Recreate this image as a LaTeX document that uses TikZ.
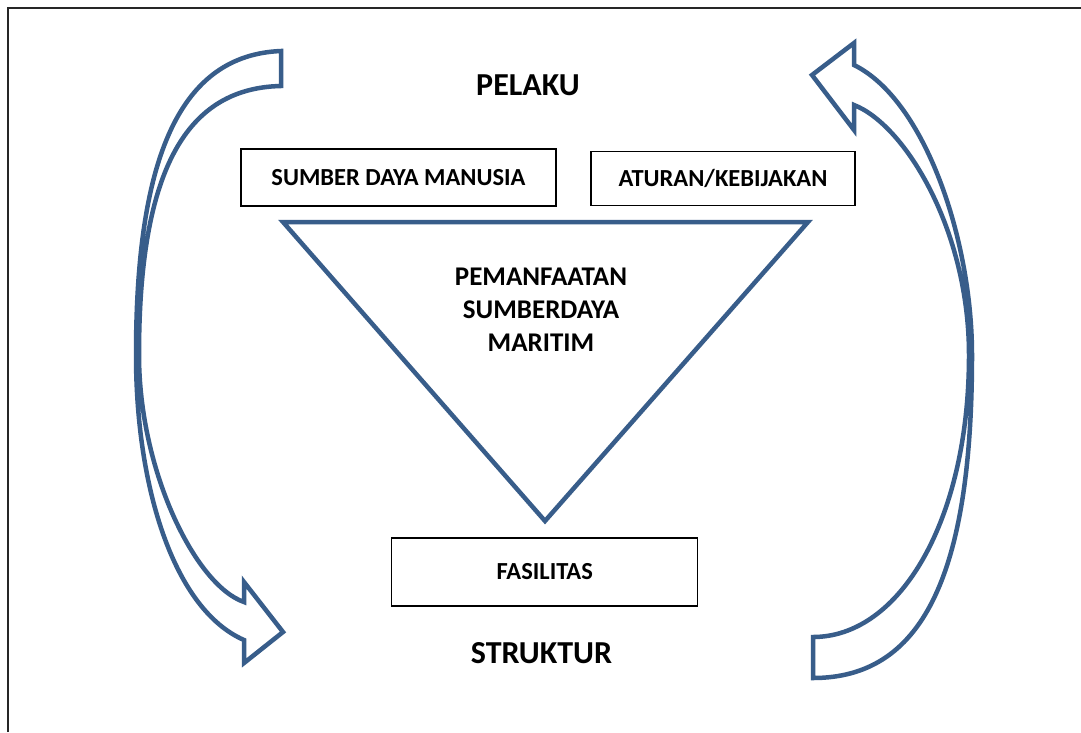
\documentclass[tikz,border=0pt]{standalone}
\usepackage{fontspec}
\setmainfont{Carlito}
\definecolor{arrowblue}{RGB}{56,93,138}
\begin{document}
\begin{tikzpicture}[x=1pt,y=-1pt,
  box/.style={draw=black,line width=1.1pt,rectangle,inner sep=0pt,font=\fontsize{24.5}{29}\selectfont\bfseries},
  bigtitle/.style={font=\fontsize{32}{38}\selectfont\bfseries,inner sep=0pt},
  blueline/.style={draw=arrowblue,line width=4.5pt,line join=miter}]
\useasboundingbox (0,0) rectangle (1081,732);
\fill[white] (0,0) rectangle (1081,732);
% frame
\draw[black!85,line width=1.6pt] (8,732) -- (8,8) -- (1081,8);
% titles
\node[bigtitle] (pelaku) at (528,85) {PELAKU};
\node[bigtitle] (struktur) at (541.5,653) {STRUKTUR};
% boxes
\node[box,minimum width=315pt,minimum height=57pt] (sdm) at (398.5,177.5) {SUMBER DAYA MANUSIA};
\node[box,minimum width=264pt,minimum height=54pt] (aturan) at (723,178.5) {ATURAN/KEBIJAKAN};
\node[box,minimum width=306pt,minimum height=68pt] (fasilitas) at (544.7,572) {FASILITAS};
% triangle
\coordinate (tl) at (283,222);
\coordinate (tr) at (808,222);
\coordinate (tb) at (545,521);
\draw[blueline] (tl) -- (tr) -- (tb) -- cycle;
\node[align=center,font=\fontsize{27}{33}\selectfont\bfseries,inner sep=0pt] (pem) at (541,310) {PEMANFAATAN\\SUMBERDAYA\\MARITIM};
% left curved arrow
\draw[blueline]
  (281,86) .. controls (181,88) and (139,180) .. (139,355)
  .. controls (139,470) and (195,585) .. (244,602)
  -- (244,582) -- (283,632) -- (244,663) -- (244,640)
  .. controls (175,610) and (136,490) .. (136,355)
  .. controls (136,155) and (181,55) .. (281,51) -- cycle;
% right curved arrow
\draw[blueline]
  (813,637) .. controls (900,637) and (969,520) .. (969,355)
  .. controls (969,230) and (905,125) .. (854,105)
  -- (854,130) -- (812,75) -- (854,43) -- (854,65)
  .. controls (925,100) and (972,240) .. (972,355)
  .. controls (972,580) and (920,678) .. (813,678) -- cycle;
\end{tikzpicture}
\end{document}
